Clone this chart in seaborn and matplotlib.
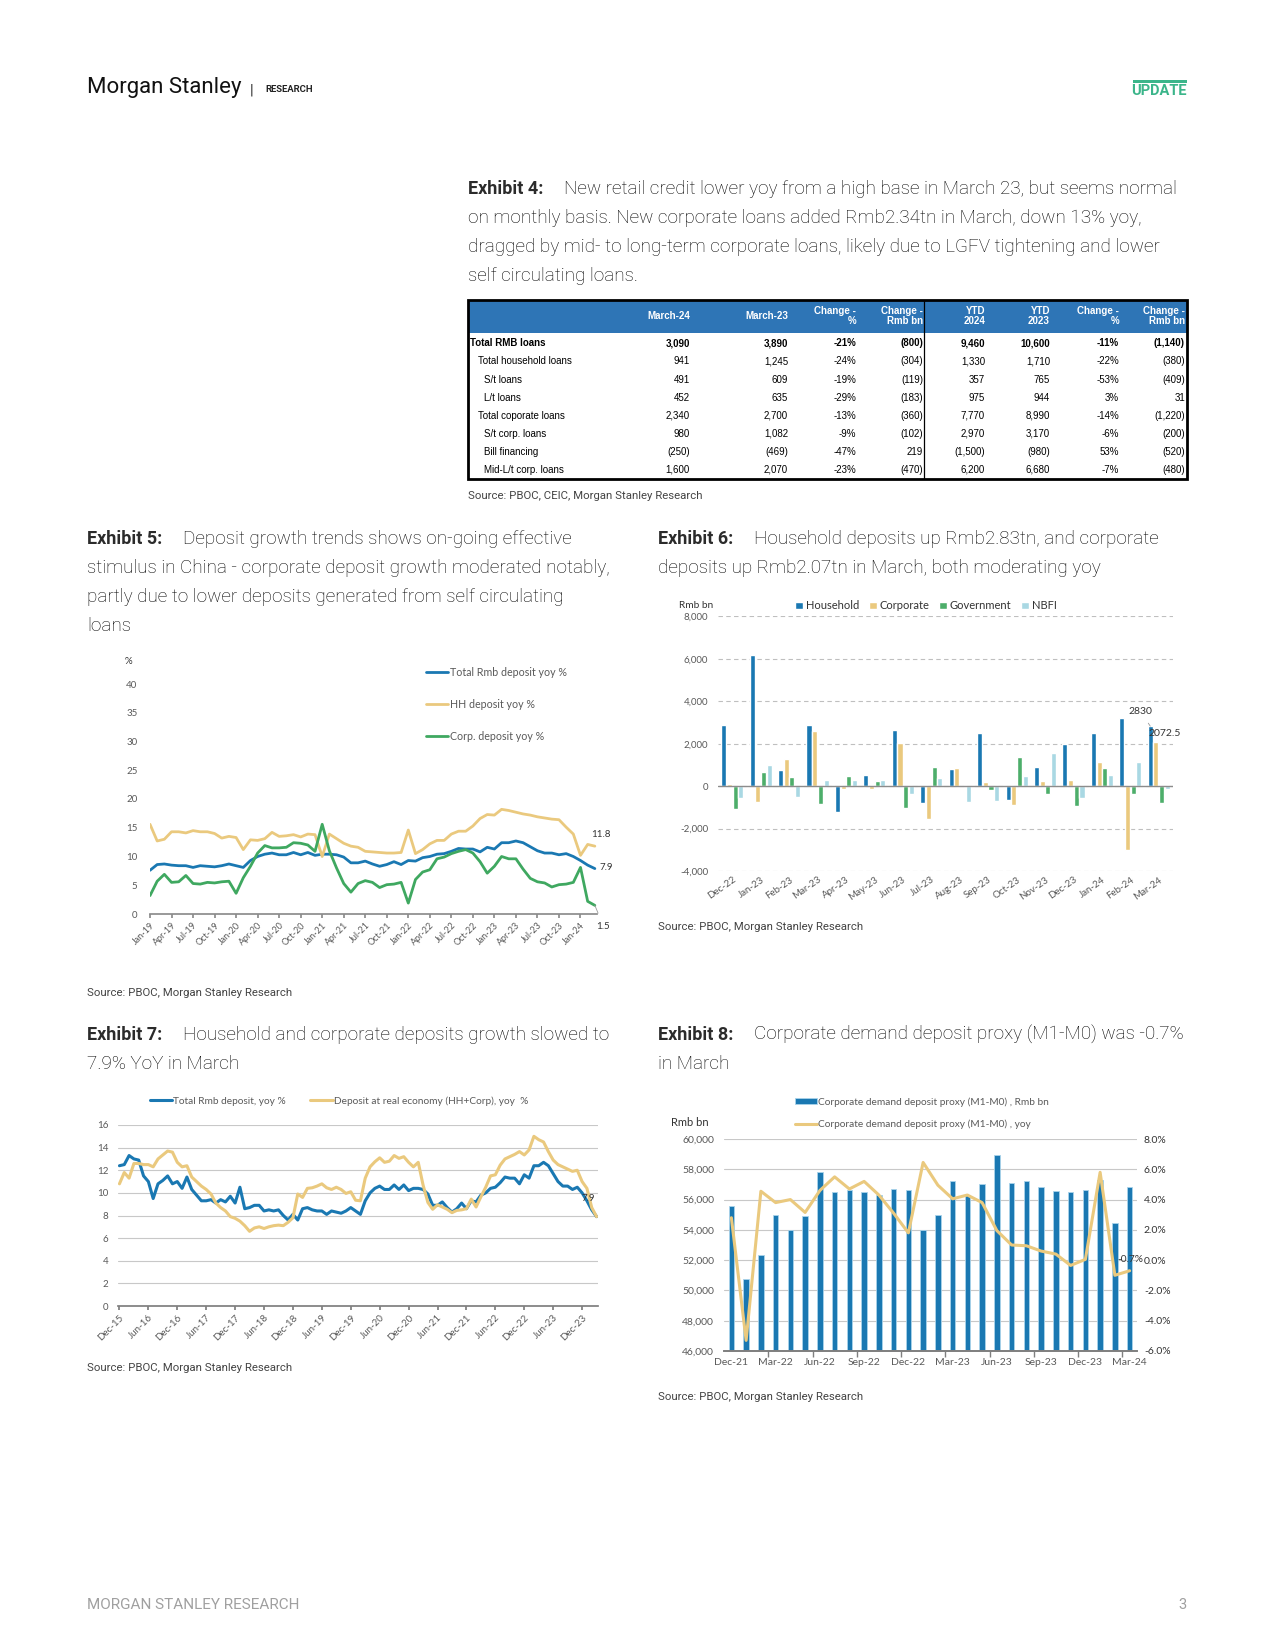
import numpy as np
import pandas as pd
import seaborn as sns
import matplotlib.pyplot as plt
from matplotlib import font_manager
from matplotlib.patches import Rectangle

W, H = 1275, 1650

# ---------------- data ----------------
# Exhibit 4 table
tbl_rows = ["Total RMB loans", "Total household loans", "S/t loans", "L/t loans",
            "Total coporate loans", "S/t corp. loans", "Bill financing", "Mid-L/t corp. loans"]
tbl_indent = [0, 1, 2, 2, 1, 2, 2, 2]
tbl_head = ["March-24", "March-23", "Change -\n%", "Change -\nRmb bn",
            "YTD\n2024", "YTD\n2023", "Change -\n%", "Change -\nRmb bn"]
mar24 = ["3,090", "941", "491", "452", "2,340", "980", "(250)", "1,600"]
mar23 = ["3,890", "1,245", "609", "635", "2,700", "1,082", "(469)", "2,070"]
chg_pct = ["-21%", "-24%", "-19%", "-29%", "-13%", "-9%", "-47%", "-23%"]
chg_rmb = ["(800)", "(304)", "(119)", "(183)", "(360)", "(102)", "219", "(470)"]
ytd24 = ["9,460", "1,330", "357", "975", "7,770", "2,970", "(1,500)", "6,200"]
ytd23 = ["10,600", "1,710", "765", "944", "8,990", "3,170", "(980)", "6,680"]
ytd_pct = ["-11%", "-22%", "-53%", "3%", "-14%", "-6%", "53%", "-7%"]
ytd_rmb = ["(1,140)", "(380)", "(409)", "31", "(1,220)", "(200)", "(520)", "(480)"]

# Exhibit 5 (Jan-19 .. Mar-24)
ex5_ticks = ["Jan-19", "Apr-19", "Jul-19", "Oct-19", "Jan-20", "Apr-20", "Jul-20", "Oct-20",
             "Jan-21", "Apr-21", "Jul-21", "Oct-21", "Jan-22", "Apr-22", "Jul-22", "Oct-22",
             "Jan-23", "Apr-23", "Jul-23", "Oct-23", "Jan-24"]
total_dep = [7.6, 8.6, 8.7, 8.5, 8.4, 8.4, 8.1, 8.4, 8.3, 8.2, 8.4, 8.7,
             8.4, 8.1, 9.3, 10.0, 10.4, 10.6, 10.3, 10.3, 10.7, 10.3, 10.7, 10.2,
             10.4, 10.4, 10.3, 9.9, 8.9, 8.9, 9.2, 8.7, 8.3, 8.6, 9.1, 8.6,
             9.3, 9.2, 9.8, 10.0, 10.4, 10.5, 10.9, 11.4, 11.3, 11.3, 10.8, 11.6,
             11.3, 12.4, 12.4, 12.7, 12.4, 11.7, 11.0, 10.6, 10.6, 10.3, 10.5, 10.0,
             9.3, 8.5, 7.9]
hh_dep = [15.6, 12.7, 13.0, 14.3, 14.3, 14.1, 14.5, 14.3, 14.3, 14.0, 13.2, 13.5,
          13.3, 11.2, 12.9, 12.8, 13.1, 14.2, 13.5, 13.6, 13.8, 13.4, 13.9, 13.8,
          10.0, 13.9, 13.1, 12.3, 11.8, 11.6, 10.9, 10.8, 10.7, 10.6, 10.6, 10.7,
          14.6, 10.5, 11.2, 12.2, 12.8, 12.8, 13.9, 14.4, 14.4, 15.3, 16.6, 17.3,
          17.2, 18.2, 18.0, 17.7, 17.4, 17.2, 16.9, 16.7, 16.5, 16.4, 15.1, 13.9,
          10.2, 12.1, 11.8]
corp_dep = [3.2, 5.7, 6.9, 5.5, 5.6, 6.7, 5.3, 5.2, 5.5, 5.4, 5.6, 5.7,
            3.6, 6.3, 8.3, 10.6, 11.9, 11.5, 11.5, 11.6, 12.4, 12.3, 12.0, 10.9,
            15.6, 11.0, 8.0, 5.3, 3.8, 5.3, 5.8, 5.5, 4.6, 5.1, 5.2, 5.5,
            1.9, 6.0, 7.3, 7.7, 9.6, 9.9, 10.5, 10.9, 11.2, 10.6, 9.1, 7.1,
            8.3, 10.0, 9.6, 9.6, 7.8, 6.2, 5.6, 5.4, 4.7, 5.1, 5.2, 5.5,
            8.1, 2.2, 1.5]

# Exhibit 6 (Rmb bn)
ex6_months = ["Dec-22", "Jan-23", "Feb-23", "Mar-23", "Apr-23", "May-23", "Jun-23", "Jul-23",
              "Aug-23", "Sep-23", "Oct-23", "Nov-23", "Dec-23", "Jan-24", "Feb-24", "Mar-24"]
household = [2880, 6190, 780, 2900, -1220, 530, 2650, -800, 790, 2510, -650, 900, 1980, 2510, 3200, 2830]
corporate = [80, -730, 1300, 2600, -150, -150, 2050, -1550, 880, 200, -900, 250, 310, 1150, -3000, 2072.5]
government = [-1100, 680, 430, -850, 490, 240, -1050, 920, 0, -200, 1380, -350, -950, 860, -380, -780]
nbfi = [-550, 1020, -520, 300, 280, 300, -350, 400, -750, -680, 490, 1570, -550, 540, 1150, -150]

# Exhibit 7 (Dec-15 .. Mar-24)
ex7_ticks = ["Dec-15", "Jun-16", "Dec-16", "Jun-17", "Dec-17", "Jun-18", "Dec-18", "Jun-19",
             "Dec-19", "Jun-20", "Dec-20", "Jun-21", "Dec-21", "Jun-22", "Dec-22", "Jun-23", "Dec-23"]
total_dep_2015_18 = [12.4, 12.5, 13.3, 13.0, 12.9, 11.5, 11.0, 9.5, 10.8, 11.1, 11.5, 10.8,
                     11.0, 10.4, 11.4, 10.3, 9.8, 9.3, 9.3, 9.4, 9.1, 9.4, 9.2, 9.7,
                     9.1, 10.5, 8.6, 8.7, 8.9, 8.9, 8.4, 8.5, 8.4, 8.5, 8.0, 7.6, 8.1]
real_econ_dep = [10.8, 11.8, 11.3, 12.6, 12.6, 12.5, 12.5, 12.3, 13.0, 13.35, 13.7, 13.6,
                 12.7, 12.3, 12.4, 11.4, 11.0, 10.6, 10.3, 9.9, 9.1, 8.7, 8.4, 7.9,
                 7.75, 7.5, 7.1, 6.6, 6.9, 7.0, 6.85, 7.0, 7.1, 7.15, 7.1, 7.4, 7.8,
                 9.9, 9.6, 10.4, 10.45, 10.6, 10.8, 10.45, 10.3, 10.5, 10.3,
                 9.95, 10.1, 9.35, 9.3, 11.3, 12.3, 12.75, 13.1, 12.7, 12.8, 13.3, 13.05, 13.2, 12.7,
                 12.3, 12.7, 10.7, 9.15, 8.55, 8.95, 8.75, 8.55, 8.25, 8.45, 8.5, 8.6,
                 9.45, 8.75, 9.65, 10.5, 11.5, 11.6, 12.45, 13.0, 13.2, 13.4, 13.65, 13.35,
                 13.8, 15.0, 14.7, 14.5, 13.65, 12.9, 12.5, 12.3, 12.1, 11.9, 12.0, 11.0,
                 10.4, 8.7, 7.9]
ex7_total = total_dep_2015_18 + total_dep

# Exhibit 8 (Dec-21 .. Mar-24)
ex8_ticks = ["Dec-21", "Mar-22", "Jun-22", "Sep-22", "Dec-22", "Mar-23", "Jun-23", "Sep-23", "Dec-23", "Mar-24"]
m1m0_bn = [55600, 50730, 52370, 54950, 54000, 54900, 57800, 56500, 56660, 56530, 56330, 56680, 56640, 54020,
           54990, 57200, 56300, 57000, 58970, 57080, 57250, 56860, 56550, 56500, 56640, 57300, 54440, 56840]
m1m0_yoy = [2.8, -5.3, 4.55, 3.8, 4.0, 3.15, 4.6, 5.5, 4.7, 5.2, 4.3, 3.1, 1.8, 6.45,
            4.95, 4.05, 4.3, 3.8, 1.95, 1.0, 0.95, 0.6, 0.4, -0.35, 0.05, 5.8, -1.0, -0.7]

# ---------------- style ----------------
BLUE = "#1A78B2"
YELLOW = "#EAC97E"
GREEN = "#3FA860"
LBLUE = "#A9D8E3"
GREY = "#595959"

sns.set_theme(style="white")
plt.rcParams['font.family'] = ['Lato', 'DejaVu Sans']
names = {f.name for f in font_manager.fontManager.ttflist}
TFONT = 'Liberation Sans Narrow' if 'Liberation Sans Narrow' in names else 'Liberation Sans'
TSIZE = 8.2 if TFONT == 'Liberation Sans Narrow' else 7.0

fig = plt.figure(figsize=(12.75, 16.5), dpi=100)
fig.patch.set_facecolor('white')


def px_axes(l, t, r, b):
    return fig.add_axes([l / W, 1 - b / H, (r - l) / W, (b - t) / H])


def ftext(x, y, s, **kw):
    kw.setdefault('va', 'center')
    return fig.text(x / W, 1 - y / H, s, **kw)


def title_block(x, x1, y, label, lines, lh=29):
    ftext(x, y, label, fontsize=13, weight='bold', family='Roboto', color='#2b2b2b')
    for k, line in enumerate(lines):
        ftext(x1 if k == 0 else x, y + k * lh, line, fontsize=13.6, family='Roboto',
              weight='light', color='#000000')


# header / footer
ftext(87, 88, "Morgan Stanley", fontsize=16, family='Roboto', color='#111111')
ftext(250, 90, "|", fontsize=11, family='Roboto', color='#333333')
ftext(265, 90, "RESEARCH", fontsize=6.8, family='Roboto', weight='bold', color='#222222')
ftext(1187, 91, "UPDATE", ha='right', fontsize=10.5, family='Roboto', weight='bold', color='#3BB58A')
fig.add_artist(Rectangle((1133 / W, 1 - 83 / H), 54 / W, 3 / H, transform=fig.transFigure,
                         color='#3BB58A', lw=0))
ftext(87, 1605, "MORGAN STANLEY RESEARCH", fontsize=11, family='Roboto', color='#A0A0A0')
ftext(1187, 1605, "3", ha='right', fontsize=10.5, family='Roboto', color='#A0A0A0')

# ---------------- Exhibit 4 ----------------
title_block(468, 564, 189, "Exhibit 4:",
            ["New retail credit lower yoy from a high base in March 23, but seems normal",
             "on monthly basis. New corporate loans added Rmb2.34tn in March, down 13% yoy,",
             "dragged by mid- to long-term corporate loans, likely due to LGFV tightening and lower",
             "self circulating loans."])

axt = px_axes(468, 300, 1187, 479)
axt.set_xlim(468, 1187)
axt.set_ylim(479, 300)
axt.axis('off')
axt.add_patch(Rectangle((468, 300), 719, 33, color='#2E75B6', lw=0))
axt.add_patch(Rectangle((468, 300), 719, 179, fill=False, lw=2, ec='black', clip_on=False))
axt.plot([924, 924], [300, 479], color='black', lw=0.9)
row_y = [343, 361, 380, 398, 416, 434, 452, 470]
col_x = [690, 788, 856, 923, 985, 1050, 1119, 1185]
indent_x = [470, 478, 484]
for hx, h in zip(col_x, tbl_head):
    axt.text(hx, 316, h, ha='right', va='center', color='white', weight='bold',
             fontsize=TSIZE, family=TFONT, linespacing=1.05)
cols = [mar24, mar23, chg_pct, chg_rmb, ytd24, ytd23, ytd_pct, ytd_rmb]
for i, (name, lvl) in enumerate(zip(tbl_rows, tbl_indent)):
    wt = 'bold' if i == 0 else 'normal'
    axt.text(indent_x[lvl], row_y[i], name, ha='left', va='center', fontsize=TSIZE,
             family=TFONT, weight=wt, color='black')
    for cx, col in zip(col_x, cols):
        axt.text(cx, row_y[i], col[i], ha='right', va='center', fontsize=TSIZE,
                 family=TFONT, weight=wt, color='black')
ftext(468, 496, "Source: PBOC, CEIC, Morgan Stanley Research", fontsize=8.2, family='Roboto', color='#444444')

# ---------------- Exhibit 5 ----------------
title_block(87, 183, 539, "Exhibit 5:",
            ["Deposit growth trends shows on-going effective",
             "stimulus in China - corporate deposit growth moderated notably,",
             "partly due to lower deposits generated from self circulating",
             "loans"])
ax5 = px_axes(150, 684, 597, 914)
m5 = np.arange(len(total_dep))
sns.lineplot(x=m5, y=total_dep, ax=ax5, color=BLUE, lw=2, label="Total Rmb deposit yoy %")
sns.lineplot(x=m5, y=hh_dep, ax=ax5, color=YELLOW, lw=2, label="HH deposit yoy %")
sns.lineplot(x=m5, y=corp_dep, ax=ax5, color=GREEN, lw=2, label="Corp. deposit yoy %")
ax5.set_xlim(0, 62.3)
ax5.set_ylim(0, 40)
ax5.set_yticks(range(0, 41, 5))
ax5.set_xticks(range(0, 61, 3))
ax5.set_xticklabels(ex5_ticks, rotation=45, ha='right', rotation_mode='anchor')
for s in ['top', 'right', 'left']:
    ax5.spines[s].set_visible(False)
ax5.spines['bottom'].set_color('#8C8C8C')
ax5.tick_params(axis='y', length=0, pad=9, labelsize=7, labelcolor=GREY)
ax5.tick_params(axis='x', bottom=True, length=3, color='#8C8C8C', labelsize=6.5, labelcolor=GREY, pad=2)
ax5.set_xlabel('')
ax5.set_ylabel('')
leg5 = ax5.legend(loc='upper left', bbox_to_anchor=(426 / W, 1 - 667 / H), bbox_transform=fig.transFigure,
                  frameon=False, fontsize=7.7, labelspacing=1.95, handlelength=2.1, handletextpad=0.1,
                  borderaxespad=0, borderpad=0)
for t in leg5.get_texts():
    t.set_color(GREY)
ftext(125, 661, "%", fontsize=7, color='#333333')
ax5.text(62.8, 13.9, "11.8", ha='center', va='center', fontsize=7, color='#333333')
ax5.text(62.6, 8.0, "7.9", ha='left', va='center', fontsize=7, color='#333333')
ax5.annotate("1.5", xy=(62, 1.5), xytext=(63.2, -2.1), ha='center', va='center', fontsize=7,
             color='#333333', annotation_clip=False,
             arrowprops=dict(arrowstyle='-', color='#999999', lw=0.6, shrinkA=4, shrinkB=0))
ftext(87, 993, "Source: PBOC, Morgan Stanley Research", fontsize=8.2, family='Roboto', color='#444444')

# ---------------- Exhibit 6 ----------------
title_block(658, 754, 539, "Exhibit 6:",
            ["Household deposits up Rmb2.83tn, and corporate",
             "deposits up Rmb2.07tn in March, both moderating yoy"])
ax6 = px_axes(718, 616.5, 1173, 871)
sectors = ["Household", "Corporate", "Government", "NBFI"]
df6 = pd.DataFrame({
    'month': ex6_months * 4,
    'sector': [s for s in sectors for _ in ex6_months],
    'value': household + corporate + government + nbfi,
})
sns.barplot(data=df6, x='month', y='value', hue='sector', hue_order=sectors,
            palette=[BLUE, YELLOW, "#4DAE6A", LBLUE], saturation=1, width=0.8, gap=0.12, ax=ax6)
ax6.set_ylim(-4000, 8000)
ax6.set_xlim(-0.5, 15.5)
ax6.set_yticks(range(-4000, 8001, 2000))
ax6.set_yticklabels([f"{v:,}" for v in range(-4000, 8001, 2000)])
ax6.yaxis.grid(True, linestyle=(0, (4, 3)), color='#BFBFBF', lw=0.8)
ax6.set_axisbelow(True)
ax6.axhline(0, color='#8C8C8C', lw=1)
for s in ax6.spines.values():
    s.set_visible(False)
ax6.tick_params(axis='y', length=0, pad=7, labelsize=7, labelcolor=GREY)
ax6.tick_params(axis='x', length=0, pad=3, labelsize=7, labelcolor=GREY)
plt.setp(ax6.get_xticklabels(), rotation=35, ha='right', rotation_mode='anchor')
ax6.set_xlabel('')
ax6.set_ylabel('')
h6, l6 = ax6.get_legend_handles_labels()
leg6 = ax6.legend(h6, l6, ncol=4, loc='center left', bbox_to_anchor=(795 / W, 1 - 606 / H),
                  bbox_transform=fig.transFigure, frameon=False, fontsize=8, handlelength=0.7,
                  handleheight=0.7, handletextpad=0.25, columnspacing=0.9, borderpad=0, borderaxespad=0)
for t in leg6.get_texts():
    t.set_color('#333333')
ftext(679, 605, "Rmb bn", fontsize=7.3, color='#333333')
ax6.annotate("2830", xy=(14.7, 2830), xytext=(14.37, 3500), ha='center', va='center', fontsize=7.5,
             color='#333333', arrowprops=dict(arrowstyle='-', color='#999999', lw=0.6, shrinkA=3, shrinkB=0))
ax6.text(14.65, 2460, "2072.5", ha='left', va='center', fontsize=7.5, color='#333333')
ftext(658, 927, "Source: PBOC, Morgan Stanley Research", fontsize=8.2, family='Roboto', color='#444444')

# ---------------- Exhibit 7 ----------------
title_block(87, 183, 1035, "Exhibit 7:",
            ["Household and corporate deposits growth slowed to",
             "7.9% YoY in March"])
ax7 = px_axes(118, 1125, 598, 1306)
m7 = np.arange(len(ex7_total))
sns.lineplot(x=m7, y=ex7_total, ax=ax7, color=BLUE, lw=2.2, label="Total Rmb deposit, yoy %")
sns.lineplot(x=m7, y=real_econ_dep, ax=ax7, color=YELLOW, lw=2.2,
             label="Deposit at real economy (HH+Corp), yoy  %")
ax7.set_xlim(-0.3, 99.3)
ax7.set_ylim(0, 16)
ax7.set_yticks(range(0, 17, 2))
ax7.yaxis.grid(True, color='#C8C8C8', lw=0.8)
ax7.set_axisbelow(True)
ax7.set_xticks(range(0, 97, 6))
ax7.set_xticklabels(ex7_ticks, rotation=45, ha='right', rotation_mode='anchor')
for s in ['top', 'right', 'left']:
    ax7.spines[s].set_visible(False)
ax7.spines['bottom'].set_color('#7F7F7F')
ax7.tick_params(axis='y', length=0, pad=7, labelsize=7, labelcolor=GREY)
ax7.tick_params(axis='x', bottom=True, length=3, color='#7F7F7F', labelsize=7, labelcolor=GREY, pad=2)
ax7.set_xlabel('')
ax7.set_ylabel('')
leg7 = ax7.legend(ncol=2, loc='center left', bbox_to_anchor=(150 / W, 1 - 1101 / H),
                  bbox_transform=fig.transFigure, frameon=False, fontsize=7.3, handlelength=2.2,
                  handletextpad=0.1, columnspacing=2.4, borderpad=0, borderaxespad=0)
for t in leg7.get_texts():
    t.set_color(GREY)
ax7.text(97.3, 9.5, "7.9", ha='center', va='center', fontsize=7, color='#333333')
ftext(87, 1368, "Source: PBOC, Morgan Stanley Research", fontsize=8.2, family='Roboto', color='#444444')

# ---------------- Exhibit 8 ----------------
title_block(658, 754, 1035, "Exhibit 8:",
            ["Corporate demand deposit proxy (M1-M0) was -0.7%",
             "in March"])
ax8 = px_axes(724, 1139, 1137, 1351)
m8 = np.arange(len(m1m0_bn))
sns.barplot(x=m8, y=m1m0_bn, ax=ax8, color=BLUE, saturation=1, width=0.38,
            edgecolor='#A9D3EA', linewidth=0.6,
            label="Corporate demand deposit proxy (M1-M0) , Rmb bn")
ax8.set_ylim(46000, 60000)
ax8.set_yticks(range(46000, 60001, 2000))
ax8.set_yticklabels([f"{v:,}" for v in range(46000, 60001, 2000)])
ax8.yaxis.grid(True, color='#C8C8C8', lw=0.8)
ax8.set_axisbelow(True)
ax8b = ax8.twinx()
sns.lineplot(x=m8, y=m1m0_yoy, ax=ax8b, color=YELLOW, lw=2.2,
             label="Corporate demand deposit proxy (M1-M0) , yoy")
ax8b.set_ylim(-6, 8)
ax8b.set_yticks(range(-6, 9, 2))
ax8b.set_yticklabels([f"{v:.1f}%" for v in range(-6, 9, 2)])
ax8.set_xlim(-0.5, 27.5)
ax8.set_xticks(range(0, 28, 3))
ax8.set_xticklabels(ex8_ticks)
ax8.set_xticks(np.arange(2.5, 27, 3), minor=True)
for a in (ax8, ax8b):
    for s in ['top', 'right', 'left']:
        a.spines[s].set_visible(False)
    a.spines['bottom'].set_color('#7F7F7F')
    a.set_xlabel('')
    a.set_ylabel('')
ax8.tick_params(axis='y', length=0, pad=7, labelsize=7.5, labelcolor=GREY)
ax8b.tick_params(axis='y', length=0, pad=5, labelsize=7.5, labelcolor='#333333')
ax8.tick_params(axis='x', which='major', length=0, pad=5, labelsize=7.5, labelcolor=GREY)
ax8.tick_params(axis='x', which='minor', bottom=True, length=4, color='#7F7F7F')
h8a, l8a = ax8.get_legend_handles_labels()
h8b, l8b = ax8b.get_legend_handles_labels()
if ax8.get_legend():
    ax8.get_legend().remove()
leg8 = ax8b.legend(h8a + h8b, l8a + l8b, loc='upper left', bbox_to_anchor=(795 / W, 1 - 1097 / H),
                   bbox_transform=fig.transFigure, frameon=False, fontsize=7.3, handlelength=2.2,
                   handleheight=0.6, handletextpad=0.1, labelspacing=1.3, borderpad=0, borderaxespad=0)
for t in leg8.get_texts():
    t.set_color(GREY)
ftext(671, 1123, "Rmb bn", fontsize=8, color='#333333')
ax8b.text(26.15, 0.07, "-0.7%", ha='left', va='center', fontsize=7.3, color='#333333')
ftext(658, 1397, "Source: PBOC, Morgan Stanley Research", fontsize=8.2, family='Roboto', color='#444444')

fig.savefig('out.png', dpi=100)
